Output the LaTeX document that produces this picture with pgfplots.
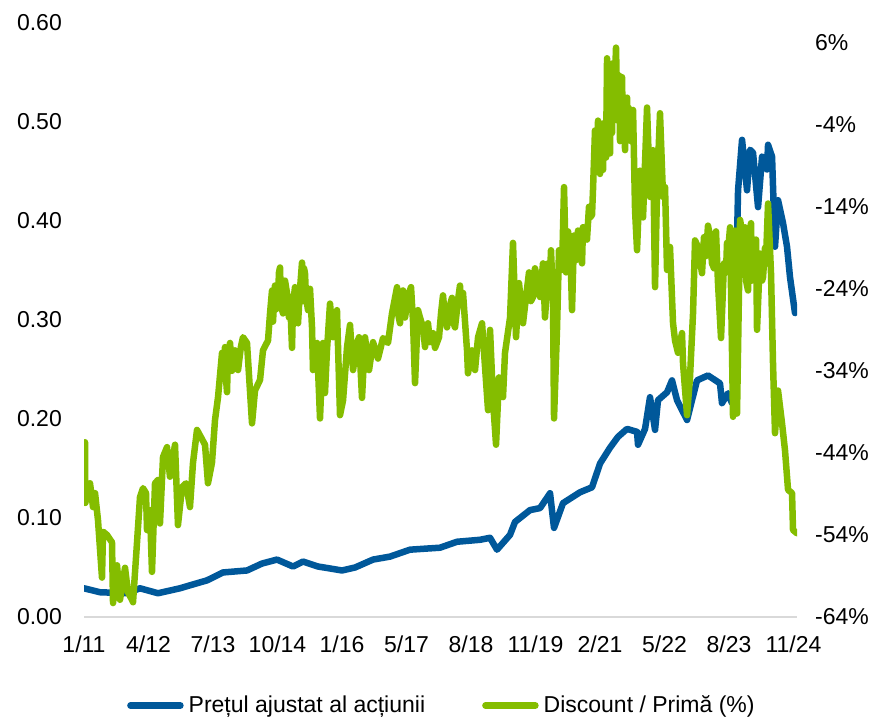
\documentclass[border=0pt]{standalone}
\usepackage{pgfplots}
\pgfplotsset{compat=1.18}
\usepackage{fontspec}
\setmainfont{Liberation Sans}

\definecolor{pretblue}{RGB}{0,88,154}
\definecolor{discgreen}{RGB}{132,189,0}
\definecolor{basegray}{RGB}{217,217,217}
\newcommand\chartfont{\fontsize{23bp}{27bp}\selectfont}

\pgfplotsset{
  chartbase/.style={
    scale only axis,
    width=713bp, height=594bp,
    at={(84bp,101bp)}, anchor=south west,
    xmin=0, xmax=11.054,
    major tick length=0pt,
    every tick label/.append style={font=\chartfont, inner sep=0pt},
  },
}

\begin{document}
\chartfont
\begin{tikzpicture}
\useasboundingbox (0,0) rectangle (873bp,718bp);

% left axis: adjusted share price
\begin{axis}[
  chartbase,
  ymin=0, ymax=0.6,
  axis x line*=bottom, axis y line*=left,
  x axis line style={draw=basegray, line width=1.2bp},
  y axis line style={draw=none},
  xtick={0,...,11},
  xticklabels={1/11,4/12,7/13,10/14,1/16,5/17,8/18,11/19,2/21,5/22,8/23,11/24},
  xticklabel style={anchor=north, yshift=-19bp},
  ytick={0,0.1,...,0.6},
  yticklabels={0.00,0.10,0.20,0.30,0.40,0.50,0.60},
  yticklabel style={anchor=east, xshift=-22bp},
]
\addplot[pretblue, line width=6.5bp, line join=round, line cap=round] coordinates {
(0.000,0.029) (0.248,0.025) (0.667,0.024) (0.868,0.029) (1.147,0.024)
(1.488,0.029) (1.643,0.032) (1.907,0.037) (2.155,0.045) (2.527,0.047)
(2.760,0.054) (2.992,0.058) (3.240,0.051) (3.395,0.056) (3.628,0.051)
(4.000,0.047) (4.202,0.050) (4.481,0.058) (4.744,0.061) (5.054,0.068)
(5.519,0.070) (5.783,0.076) (6.140,0.078) (6.295,0.080) (6.403,0.068)
(6.605,0.083) (6.682,0.096) (6.915,0.108) (7.070,0.110) (7.225,0.125)
(7.287,0.090) (7.426,0.115) (7.690,0.126) (7.876,0.131) (8.000,0.155)
(8.155,0.171) (8.279,0.182) (8.419,0.190) (8.574,0.187) (8.589,0.174)
(8.698,0.190) (8.775,0.222) (8.853,0.189) (8.899,0.219) (9.039,0.227)
(9.116,0.239) (9.194,0.219) (9.349,0.199) (9.504,0.239) (9.674,0.244)
(9.860,0.236) (9.891,0.216) (9.984,0.226) (10.046,0.216) (10.093,0.220)
(10.109,0.335) (10.140,0.431) (10.202,0.482) (10.279,0.431) (10.326,0.472)
(10.372,0.469) (10.450,0.414) (10.512,0.465) (10.589,0.452) (10.605,0.477)
(10.667,0.465) (10.713,0.374) (10.760,0.421) (10.837,0.398) (10.899,0.374)
(10.946,0.343) (11.023,0.307)
};
\end{axis}

% right axis: discount / premium
\begin{axis}[
  chartbase,
  ymin=-64, ymax=8.4,
  axis x line=none, axis y line*=right,
  y axis line style={draw=none},
  ytick={-64,-54,...,6},
  yticklabels={-64\%,-54\%,-44\%,-34\%,-24\%,-14\%,-4\%,6\%},
  yticklabel style={anchor=west, xshift=18bp},
  legend style={
    at={(0.5005,-0.149)}, anchor=center,
    draw=none, fill=none, inner sep=0pt,
    font=\chartfont,
    nodes={inner sep=0pt},
    legend columns=2,
    /tikz/every odd column/.append style={column sep=5bp},
    /tikz/every even column/.append style={column sep=57bp},
  },
  legend image code/.code={\draw[#1, line cap=round] (0bp,0bp) -- (50bp,0bp);},
]
\addlegendimage{pretblue, line width=6.5bp}
\addlegendentry{Prețul ajustat al acțiunii}
\addplot[discgreen, line width=6.5bp, line join=round, line cap=round] coordinates {
(0.016,-42.7) (0.020,-50.1) (0.093,-47.7) (0.140,-50.6) (0.171,-48.9)
(0.217,-52.2) (0.279,-59.2) (0.295,-53.6) (0.357,-54.0) (0.434,-54.9)
(0.450,-62.3) (0.512,-57.7) (0.558,-61.9) (0.636,-58.0) (0.682,-61.0)
(0.744,-61.9) (0.760,-62.2) (0.822,-54.9) (0.868,-49.4) (0.915,-48.3)
(0.961,-48.9) (0.977,-53.4) (1.023,-51.0) (1.054,-58.5) (1.101,-47.7)
(1.147,-47.3) (1.178,-52.6) (1.225,-44.5) (1.287,-43.3) (1.333,-46.9)
(1.411,-43.0) (1.457,-52.8) (1.519,-48.2) (1.581,-47.7) (1.643,-50.6)
(1.690,-45.2) (1.752,-41.2) (1.814,-42.1) (1.876,-43.0) (1.922,-47.7)
(1.984,-45.2) (2.031,-40.0) (2.078,-37.2) (2.140,-31.8) (2.171,-34.5)
(2.186,-31.1) (2.202,-35.0) (2.217,-36.6) (2.233,-32.0) (2.264,-30.6)
(2.295,-34.0) (2.341,-31.5) (2.388,-33.9) (2.434,-31.0) (2.465,-29.9)
(2.527,-30.6) (2.605,-40.4) (2.651,-36.4) (2.729,-35.1) (2.775,-31.5)
(2.853,-30.3) (2.884,-27.0) (2.915,-24.2) (2.930,-28.0) (2.961,-23.6)
(2.977,-26.5) (3.008,-25.0) (3.023,-22.0) (3.039,-21.4) (3.054,-26.0)
(3.085,-27.0) (3.116,-23.0) (3.147,-24.5) (3.178,-27.5) (3.194,-25.0)
(3.225,-31.2) (3.240,-26.0) (3.271,-23.8) (3.287,-27.0) (3.318,-28.2)
(3.349,-24.0) (3.380,-20.8) (3.395,-25.5) (3.411,-21.5) (3.426,-22.1)
(3.442,-25.0) (3.473,-26.6) (3.504,-24.0) (3.535,-28.7) (3.550,-33.9)
(3.612,-30.6) (3.659,-39.8) (3.705,-30.6) (3.736,-36.7) (3.767,-31.5)
(3.814,-25.8) (3.860,-29.9) (3.922,-26.6) (3.969,-39.4) (4.016,-37.6)
(4.078,-31.1) (4.124,-28.4) (4.171,-33.9) (4.233,-30.6) (4.264,-29.9)
(4.310,-37.3) (4.357,-29.9) (4.419,-33.9) (4.481,-30.5) (4.558,-32.5)
(4.636,-30.0) (4.713,-30.6) (4.775,-27.0) (4.853,-23.8) (4.868,-27.0)
(4.899,-28.2) (4.915,-25.0) (4.946,-24.2) (4.977,-27.5) (5.023,-25.0)
(5.039,-24.5) (5.070,-23.8) (5.101,-28.0) (5.132,-35.5) (5.178,-26.6)
(5.209,-27.5) (5.256,-28.7) (5.287,-31.1) (5.333,-28.2) (5.364,-30.5)
(5.411,-29.4) (5.442,-31.2) (5.504,-29.9) (5.535,-27.0) (5.566,-24.8)
(5.597,-27.5) (5.628,-28.7) (5.674,-26.0) (5.705,-25.1) (5.721,-28.0)
(5.752,-28.7) (5.783,-26.5) (5.798,-25.4) (5.829,-23.6) (5.845,-26.0)
(5.876,-24.5) (5.938,-31.5) (5.953,-34.3) (6.016,-31.5) (6.062,-33.9)
(6.109,-29.9) (6.171,-28.2) (6.217,-33.5) (6.264,-38.8) (6.295,-29.0)
(6.341,-37.6) (6.388,-43.0) (6.434,-34.8) (6.496,-37.2) (6.527,-31.8)
(6.605,-27.5) (6.651,-18.4) (6.698,-29.9) (6.744,-23.3) (6.806,-28.2)
(6.853,-25.0) (6.899,-22.0) (6.930,-25.5) (6.961,-25.0) (6.992,-21.5)
(7.039,-23.3) (7.070,-25.0) (7.116,-20.9) (7.147,-27.5) (7.178,-24.0)
(7.194,-20.9) (7.225,-22.5) (7.240,-19.3) (7.271,-25.4) (7.287,-39.8)
(7.333,-29.0) (7.364,-19.3) (7.411,-21.7) (7.442,-11.6) (7.473,-22.0)
(7.488,-18.4) (7.504,-17.0) (7.535,-18.9) (7.550,-22.0) (7.566,-26.6)
(7.597,-17.5) (7.612,-19.3) (7.628,-20.5) (7.659,-16.9) (7.690,-18.5)
(7.721,-20.9) (7.736,-16.5) (7.767,-16.9) (7.798,-18.0) (7.829,-14.0)
(7.845,-15.3) (7.876,-15.0) (7.891,-12.0) (7.922,-4.7) (7.953,-9.0)
(7.969,-3.5) (8.000,-10.0) (8.031,-5.0) (8.047,-9.5) (8.062,-3.8)
(8.093,-8.0) (8.109,4.1) (8.124,-6.0) (8.140,3.0) (8.155,-7.5)
(8.171,2.0) (8.186,-5.0) (8.202,3.5) (8.217,-2.0) (8.248,5.4)
(8.264,-1.0) (8.279,-3.5) (8.295,2.0) (8.310,-6.0) (8.326,1.0)
(8.341,1.8) (8.357,-6.0) (8.372,-2.0) (8.388,-7.1) (8.403,-1.0)
(8.419,-0.7) (8.434,-5.0) (8.450,-2.0) (8.465,-2.6) (8.481,-6.0)
(8.512,-2.2) (8.543,-14.4) (8.574,-19.3) (8.620,-9.6) (8.667,-15.3)
(8.729,-1.9) (8.775,-12.8) (8.822,-7.1) (8.853,-23.8) (8.884,-12.0)
(8.930,-2.6) (8.977,-12.8) (9.008,-11.6) (9.039,-21.7) (9.085,-18.9)
(9.132,-28.2) (9.163,-30.3) (9.209,-31.8) (9.271,-29.4) (9.287,-33.1)
(9.349,-39.4) (9.395,-34.8) (9.442,-27.0) (9.473,-18.1) (9.519,-18.9)
(9.550,-20.5) (9.581,-22.1) (9.612,-17.7) (9.643,-20.0) (9.674,-16.3)
(9.705,-17.5) (9.736,-20.9) (9.767,-21.5) (9.783,-18.4) (9.798,-17.0)
(9.829,-23.3) (9.876,-30.0) (9.922,-20.9) (9.953,-22.0) (9.969,-18.4)
(9.984,-19.5) (10.016,-16.5) (10.062,-39.6) (10.093,-16.9) (10.124,-39.2)
(10.155,-24.0) (10.171,-15.6) (10.202,-17.0) (10.217,-20.5) (10.248,-16.5)
(10.264,-23.0) (10.295,-24.2) (10.310,-18.0) (10.341,-16.0) (10.357,-23.0)
(10.388,-20.9) (10.419,-18.0) (10.434,-29.0) (10.481,-19.7) (10.512,-23.0)
(10.527,-22.6) (10.558,-19.0) (10.574,-20.2) (10.605,-13.6) (10.651,-22.1)
(10.682,-33.1) (10.713,-41.6) (10.760,-36.4) (10.822,-40.4) (10.868,-43.7)
(10.915,-48.5) (10.977,-48.9) (10.992,-53.4) (11.054,-53.8)
};
\addlegendentry{Discount / Primă (\%)}
\end{axis}
\end{tikzpicture}
\end{document}
